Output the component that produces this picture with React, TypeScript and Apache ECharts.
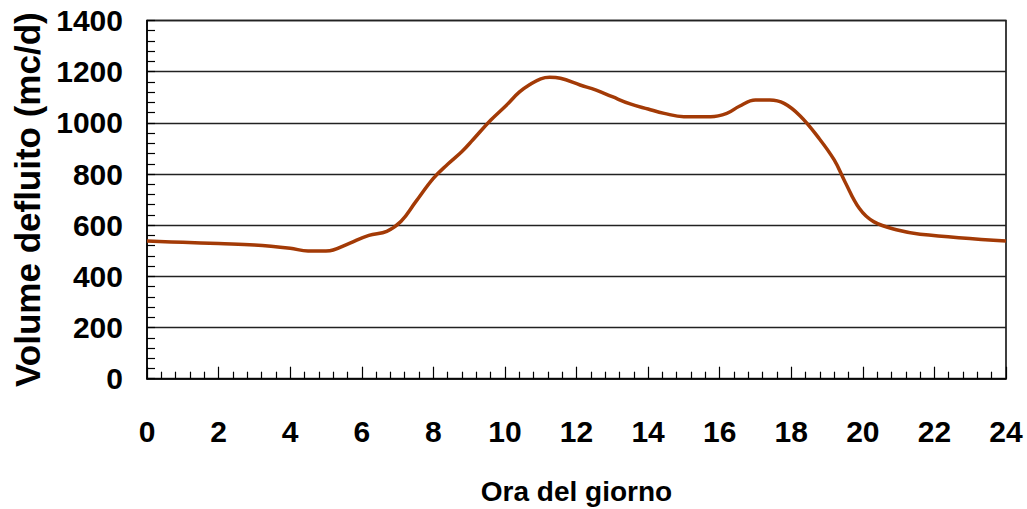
import React, { useEffect, useRef } from "react";
import * as echarts from "echarts";

const hours = [0, 1, 2, 3, 4, 4.5, 5.0, 5.2, 5.67, 6.2, 6.7, 7.1, 7.5, 8.0, 8.4, 8.8, 9.1, 9.6, 10.05, 10.4, 10.7, 11.0, 11.25, 11.55, 12.1, 12.55, 13.0, 13.5, 14.0, 14.45, 15.0, 15.75, 16.2, 16.55, 17.0, 17.4, 17.8, 18.25, 18.75, 19.2, 19.5, 19.9, 20.3, 21.0, 21.6, 24.0];
const volumes = [538, 533, 528, 523, 510, 499, 499, 503, 530, 560, 576, 615, 690, 783, 838, 888, 933, 1010, 1070, 1120, 1150, 1172, 1178, 1174, 1148, 1128, 1102, 1074, 1054, 1037, 1024, 1024, 1037, 1065, 1089, 1089, 1076, 1027, 944, 855, 770, 666, 614, 580, 565, 538];

const xTitle = "Ora del giorno";
const yTitle = "Volume defluito (mc/d)";

const FONT = "'Liberation Sans', Arial, sans-serif";

export default function App() {
  const ref = useRef<HTMLDivElement>(null);
  useEffect(() => {
    if (!ref.current) return;
    const chart = echarts.init(ref.current, null, { renderer: "svg" });
    const data = hours.map((h, i) => [h, volumes[i]]);
    chart.setOption({
      animation: false,
      backgroundColor: "#fff",
      grid: {
        left: 147,
        right: 21,
        top: 20.5,
        bottom: 130.3,
        containLabel: false,
        outerBoundsMode: "none",
        show: true,
        borderColor: "#000",
        borderWidth: 1.5,
        backgroundColor: "transparent",
      },
      xAxis: {
        type: "value",
        min: 0,
        max: 24,
        interval: 2,
        name: xTitle,
        nameLocation: "middle",
        nameGap: 99,
        nameTextStyle: { fontFamily: FONT, fontWeight: "bold", fontSize: 28, color: "#000" },
        axisLine: { show: true, lineStyle: { color: "#000", width: 1.5 } },
        axisTick: { show: true, inside: true, length: 12, lineStyle: { color: "#000", width: 1.2 } },
        minorTick: { show: true, splitNumber: 5, length: 7, lineStyle: { color: "#000", width: 1.2 } },
        splitLine: { show: false },
        axisLabel: { fontFamily: FONT, fontWeight: "bold", fontSize: 30, color: "#000", margin: 38, formatter: (v: number) => String(v) },
      },
      yAxis: {
        type: "value",
        min: 0,
        max: 1400,
        interval: 200,
        name: yTitle,
        nameLocation: "middle",
        nameGap: 100,
        nameTextStyle: { fontFamily: FONT, fontWeight: "bold", fontSize: 35, color: "#000" },
        axisLine: { show: true, lineStyle: { color: "#000", width: 1.5 } },
        axisTick: { show: true, inside: true, length: 8, lineStyle: { color: "#000", width: 1.2 } },
        minorTick: { show: true, splitNumber: 5, length: 8, lineStyle: { color: "#000", width: 1.2 } },
        splitLine: { show: true, lineStyle: { color: "#222", width: 1.3 } },
        axisLabel: { fontFamily: FONT, fontWeight: "bold", fontSize: 30, color: "#000", margin: 24, formatter: (v: number) => String(v) },
      },
      series: [
        {
          type: "line",
          data,
          smooth: 0.4,
          showSymbol: false,
          symbol: "none",
          lineStyle: { color: "#A33A06", width: 3.5 },
        },
      ],
    });
    return () => chart.dispose();
  }, []);
  return <div ref={ref} style={{ width: 1027, height: 509, position: "absolute", left: 0, top: 0 }} />;
}
